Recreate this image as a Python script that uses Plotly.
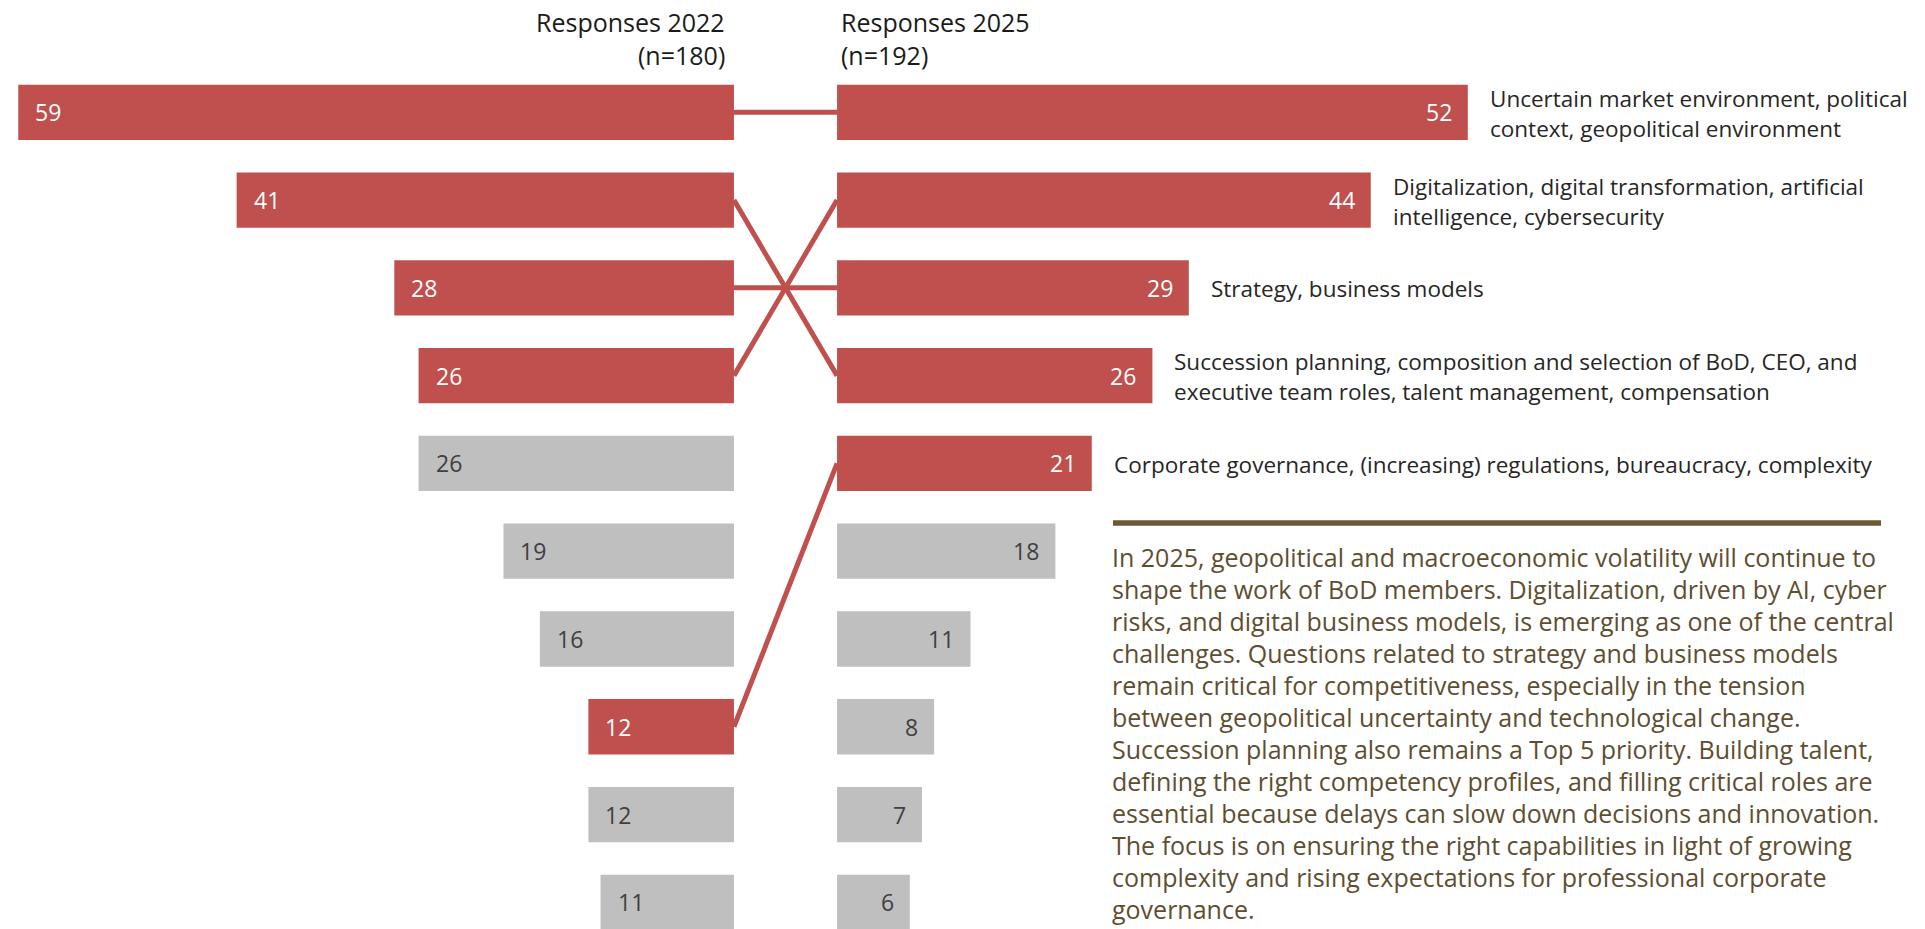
import plotly.graph_objects as go

# Survey results: share of responses per topic, ranked top to bottom
values_2022 = [59, 41, 28, 26, 26, 19, 16, 12, 12, 11]
top5_2022 = [True, True, True, True, False, False, False, True, False, False]
values_2025 = [52, 44, 29, 26, 21, 18, 11, 8, 7, 6]
top5_2025 = [True, True, True, True, True, False, False, False, False, False]

# (rank in 2022, rank in 2025) for topics in the 2025 top 5
links = [(0, 0), (1, 3), (2, 2), (3, 1), (7, 4)]

topic_labels_2025 = [
    ["Uncertain market environment, political", "context, geopolitical environment"],
    ["Digitalization, digital transformation, artificial", "intelligence, cybersecurity"],
    ["Strategy, business models"],
    ["Succession planning, composition and selection of BoD, CEO, and",
     "executive team roles, talent management, compensation"],
    ["Corporate governance, (increasing) regulations, bureaucracy, complexity"],
]

header_2022 = ["Responses 2022", "(n=180)"]
header_2025 = ["Responses 2025", "(n=192)"]

commentary = [
    "In 2025, geopolitical and macroeconomic volatility will continue to",
    "shape the work of BoD members. Digitalization, driven by AI, cyber",
    "risks, and digital business models, is emerging as one of the central",
    "challenges. Questions related to strategy and business models",
    "remain critical for competitiveness, especially in the tension",
    "between geopolitical uncertainty and technological change.",
    "Succession planning also remains a Top 5 priority. Building talent,",
    "defining the right competency profiles, and filling critical roles are",
    "essential because delays can slow down decisions and innovation.",
    "The focus is on ensuring the right capabilities in light of growing",
    "complexity and rising expectations for professional corporate",
    "governance.",
]

RED = "#C0504D"
GREY = "#BFBFBF"
OLIVE = "#6B5A35"
TEXT_OLIVE = "#5E4E30"
FONT = "Open Sans"

W, H = 1925, 929
px_per_unit = 12.13          # horizontal scale of the bars
center_px = 785.5            # middle of the gap between both columns
gap = 4.25                   # half gap between the two baselines, in value units
row0_px, row_pitch = 112.3, 87.78

rows = list(range(len(values_2022)))

fig = go.Figure()

# 2022 bars grow to the left of the left baseline
fig.add_trace(go.Bar(
    y=rows, x=[-v for v in values_2022], base=-gap, orientation="h", width=0.63,
    marker=dict(color=[RED if t else GREY for t in top5_2022], line=dict(width=0)),
    hoverinfo="skip", showlegend=False,
))
# 2025 bars grow to the right of the right baseline
fig.add_trace(go.Bar(
    y=rows, x=values_2025, base=gap, orientation="h", width=0.63,
    marker=dict(color=[RED if t else GREY for t in top5_2025], line=dict(width=0)),
    hoverinfo="skip", showlegend=False,
))

# connectors between the rank of a topic in 2022 and its rank in 2025
for r22, r25 in links:
    fig.add_trace(go.Scatter(
        x=[-gap, gap], y=[r22, r25], mode="lines",
        line=dict(color=RED, width=5), hoverinfo="skip", showlegend=False,
    ))

annotations = []

# value labels at the outer end of each bar
for i, (v, t) in enumerate(zip(values_2022, top5_2022)):
    annotations.append(dict(
        x=-(gap + v), y=i, xref="x", yref="y", text=str(v), showarrow=False,
        xanchor="left", xshift=15,
        font=dict(family=FONT, size=23, color="white" if t else "#404040"),
    ))
for i, (v, t) in enumerate(zip(values_2025, top5_2025)):
    annotations.append(dict(
        x=gap + v, y=i, xref="x", yref="y", text=str(v), showarrow=False,
        xanchor="right", xshift=-14,
        font=dict(family=FONT, size=23, color="white" if t else "#404040"),
    ))

# topic names next to the 2025 top 5 bars
line_gap = 30
for i, lines in enumerate(topic_labels_2025):
    n = len(lines)
    for k, line in enumerate(lines):
        annotations.append(dict(
            x=gap + values_2025[i], y=i, xref="x", yref="y", text=line,
            showarrow=False, xanchor="left", xshift=20,
            yshift=-(k - (n - 1) / 2) * line_gap - 1,
            font=dict(family=FONT, size=22.5, color="#262626"),
        ))

# column headers
for k, line in enumerate(header_2022):
    annotations.append(dict(
        x=727 / W, y=1 - (22 + 33 * k) / H, xref="paper", yref="paper",
        text=line, showarrow=False, xanchor="right", yanchor="middle",
        font=dict(family=FONT, size=25, color="#1a1a1a"),
    ))
for k, line in enumerate(header_2025):
    annotations.append(dict(
        x=839 / W, y=1 - (22 + 33 * k) / H, xref="paper", yref="paper",
        text=line, showarrow=False, xanchor="left", yanchor="middle",
        font=dict(family=FONT, size=25, color="#1a1a1a"),
    ))

# commentary block
for k, line in enumerate(commentary):
    annotations.append(dict(
        x=1110 / W, y=1 - (557 + 32 * k) / H, xref="paper", yref="paper",
        text=line, showarrow=False, xanchor="left", yanchor="middle",
        font=dict(family=FONT, size=25, color=TEXT_OLIVE),
    ))

shapes = [dict(
    type="line", xref="paper", yref="paper",
    x0=1113 / W, x1=1881 / W, y0=1 - 523 / H, y1=1 - 523 / H,
    line=dict(color=OLIVE, width=5.5),
)]

fig.update_layout(
    width=W, height=H,
    margin=dict(l=0, r=0, t=0, b=0),
    paper_bgcolor="white", plot_bgcolor="white",
    barmode="overlay",
    xaxis=dict(range=[-center_px / px_per_unit, (W - center_px) / px_per_unit],
               visible=False, fixedrange=True),
    yaxis=dict(range=[(H - row0_px) / row_pitch, -row0_px / row_pitch],
               visible=False, fixedrange=True),
    annotations=annotations,
    shapes=shapes,
    font=dict(family=FONT),
)

fig.write_html("out.html", config={"displayModeBar": False})
